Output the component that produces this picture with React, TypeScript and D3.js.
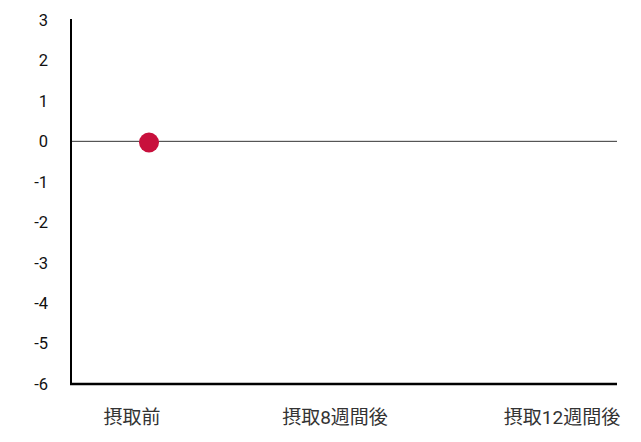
import { useEffect, useRef } from 'react';
import * as d3 from 'd3';

const categories = ['摂取前', '摂取8週間後', '摂取12週間後'];
const values: (number | null)[] = [-0.03, null, null];
const yTicks = [3, 2, 1, 0, -1, -2, -3, -4, -5, -6];
const labelDx = [-17, -9, 23];

export default function App() {
  const svgRef = useRef<SVGSVGElement>(null);

  useEffect(() => {
    if (!svgRef.current) return;
    const width = 641;
    const height = 442;
    const left = 71;
    const right = 617;
    const top = 20;
    const bottom = 384;

    const svg = d3.select(svgRef.current);
    svg.selectAll('*').remove();

    const x = d3.scalePoint<string>().domain(categories).range([left, right]).padding(0.4);
    const y = d3.scaleLinear().domain([-6, 3]).range([bottom, top]);

    // y tick labels
    svg.append('g')
      .selectAll('text')
      .data(yTicks)
      .join('text')
      .attr('x', 48)
      .attr('y', d => y(d))
      .attr('dy', '0.36em')
      .attr('text-anchor', 'end')
      .attr('font-family', 'Roboto, "Noto Sans CJK JP", sans-serif')
      .attr('font-size', 16.5)
      .attr('fill', '#111')
      .text(d => String(d));

    // zero line
    svg.append('line')
      .attr('x1', left).attr('x2', right)
      .attr('y1', y(0)).attr('y2', y(0))
      .attr('stroke', '#333').attr('stroke-width', 1);

    // axes
    svg.append('line')
      .attr('x1', left).attr('x2', left)
      .attr('y1', y(3) - 1).attr('y2', y(-6) + 1)
      .attr('stroke', '#000').attr('stroke-width', 2);
    svg.append('line')
      .attr('x1', left - 1).attr('x2', right)
      .attr('y1', y(-6)).attr('y2', y(-6))
      .attr('stroke', '#000').attr('stroke-width', 2.4);

    // category labels
    svg.append('g')
      .selectAll('text')
      .data(categories)
      .join('text')
      .attr('x', (d, i) => (x(d) as number) + labelDx[i])
      .attr('y', 424)
      .attr('text-anchor', 'middle')
      .attr('font-family', 'Roboto, "Noto Sans CJK JP", sans-serif')
      .attr('font-size', 19)
      .attr('fill', '#333')
      .text(d => d);

    // points
    svg.append('g')
      .selectAll('circle')
      .data(categories.map((c, i) => ({ c, v: values[i] })).filter(d => d.v !== null))
      .join('circle')
      .attr('cx', d => x(d.c) as number)
      .attr('cy', d => y(d.v as number))
      .attr('r', 10)
      .attr('fill', '#c8103c');

    svg.attr('width', width).attr('height', height);
  }, []);

  return (
    <svg
      ref={svgRef}
      width={641}
      height={442}
      style={{ position: 'absolute', left: 0, top: 0, display: 'block', background: '#fff' }}
    />
  );
}
